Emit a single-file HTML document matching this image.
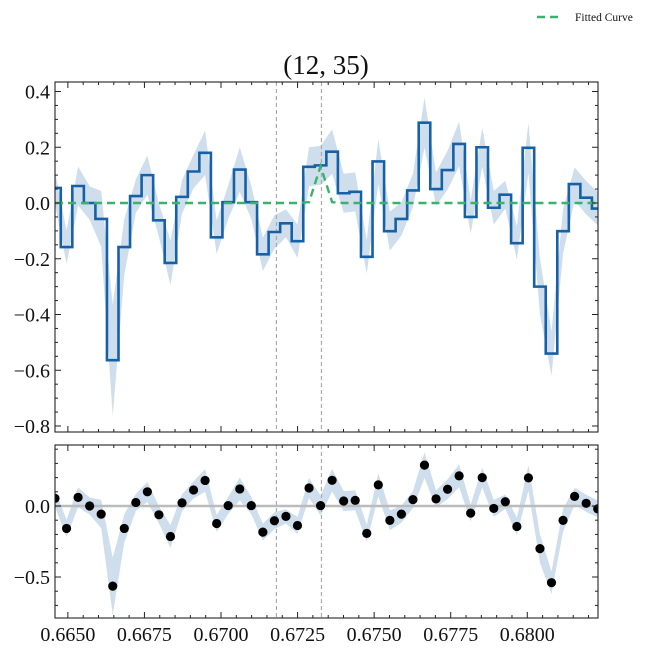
<!DOCTYPE html>
<html><head><meta charset="utf-8"><style>
body{margin:0;background:#fff;}
svg text{font-family:"Liberation Serif",serif;fill:#111;}
</style></head><body>
<svg id="c" width="665" height="650" xmlns="http://www.w3.org/2000/svg"></svg>
<script>
const x0 = 0.66458, dx = 0.000377;
const dataVals = [0.054,-0.158,0.061,0,-0.057,-0.564,-0.158,0.025,0.10,-0.062,-0.215,0.022,0.113,0.180,-0.123,0.003,0.12,0.003,-0.184,-0.104,-0.073,-0.137,0.13,0.135,0.184,0.035,0.04,-0.193,0.149,-0.101,-0.057,0.045,0.288,0.05,0.118,0.212,-0.05,0.200,-0.017,0.03,-0.144,0.198,-0.30,-0.54,-0.101,0.068,0.019,-0.02];
const modelVals = [0,0,0,0,0,0,0,0,0,0,0,0,0,0,0,0,0,0,0,0,0,0,0.003,0.132,0.003,0,0,0,0,0,0,0,0,0,0,0,0,0,0,0,0,0,0,0,0,0,0,0];
const errVals = [0.06,0.06,0.07,0.06,0.1,0.2,0.1,0.06,0.07,0.06,0.08,0.06,0.06,0.08,0.06,0.06,0.08,0.06,0.06,0.06,0.05,0.06,0.07,0.07,0.08,0.07,0.07,0.06,0.08,0.07,0.06,0.06,0.09,0.06,0.07,0.08,0.06,0.07,0.06,0.05,0.06,0.09,0.1,0.08,0.08,0.06,0.06,0.06];
const vLines = [0.67181, 0.67328];
const xTicks = [0.6650,0.6675,0.6700,0.6725,0.6750,0.6775,0.6800];
const yTicksTop = [0.4,0.2,0,-0.2,-0.4,-0.6,-0.8];
const yTicksBot = [0,-0.5];

const svg = document.getElementById('c');
const NS='http://www.w3.org/2000/svg';
function mk(tag, attrs, parent){const e=document.createElementNS(NS,tag);for(const k in attrs)e.setAttribute(k,attrs[k]);(parent||svg).appendChild(e);return e;}
const L=55,R=598;
const xmin=0.66458, xmax=x0+47*dx+0.00001;
const X = v => L + (v - xmin)/(xmax - xmin)*(R-L);
const T={top:82,bot:432,vmax:0.4+(203-82)/278.75*0,};
const Yt = v => 203 - v*278.75;
const Yb = v => 506 - v*142;
const xs = dataVals.map((_,i)=>x0+i*dx);
const resid = dataVals.map((v,i)=>v-modelVals[i]);
const fmt = v => (v<0?'\u2212':'')+Math.abs(v).toFixed(1);

const defs=mk('defs',{});
const cp1=mk('clipPath',{id:'cp1'},defs); mk('rect',{x:L,y:82,width:R-L,height:350},cp1);
const cp2=mk('clipPath',{id:'cp2'},defs); mk('rect',{x:L,y:445,width:R-L,height:173},cp2);

function panel(top,bot,Y,yt,name){
  const g=mk('g',{'clip-path':'url(#'+(name==='top'?'cp1':'cp2')+')'});
  
  
  return g;
}
// ---- top panel
const gt=panel(82,432,Yt,yTicksTop,'top');
let up='',lo='';
xs.forEach((x,i)=>{up+=(i?'L':'M')+X(x)+','+Yt(dataVals[i]+errVals[i]);});
for(let i=xs.length-1;i>=0;i--) up+='L'+X(xs[i])+','+Yt(dataVals[i]-errVals[i]);
const band=mk('path',{d:up+'Z',fill:'#c5d8ea',opacity:'0.85'},gt);


vLines.forEach(v=>{const l=mk('line',{x1:X(v),x2:X(v),y1:82,y2:432,stroke:'#aaa','stroke-width':1.2,'stroke-dasharray':'4,3'},gt);

});
let sd='';
const hw=dx/2;
xs.forEach((x,i)=>{const y=Yt(dataVals[i]);sd+=(i?'L':'M')+X(x-hw)+','+y+'L'+X(x+hw)+','+y;});
const step=mk('path',{d:sd,fill:'none',stroke:'#1660a8','stroke-width':2.6},gt);


let md='';xs.forEach((x,i)=>{md+=(i?'L':'M')+X(x)+','+Yt(modelVals[i]);});
const fit=mk('path',{d:md,fill:'none',stroke:'#3bb26b','stroke-width':2.4,'stroke-dasharray':'8,5'},gt);



// ---- bottom panel
const gb=panel(445,618,Yb,yTicksBot,'bottom');
let bu='';
xs.forEach((x,i)=>{bu+=(i?'L':'M')+X(x)+','+Yb(resid[i]+errVals[i]);});
for(let i=xs.length-1;i>=0;i--) bu+='L'+X(xs[i])+','+Yb(resid[i]-errVals[i]);
const band2=mk('path',{d:bu+'Z',fill:'#c5d8ea',opacity:'0.85'},gb);


const zl=mk('line',{x1:L,x2:R,y1:Yb(0),y2:Yb(0),stroke:'#bbb','stroke-width':2.5},gb);


vLines.forEach(v=>{const l=mk('line',{x1:X(v),x2:X(v),y1:445,y2:618,stroke:'#aaa','stroke-width':1.2,'stroke-dasharray':'4,3'},gb);

});
xs.forEach((x,i)=>{const c=mk('circle',{cx:X(x),cy:Yb(resid[i]),r:4.6,fill:'#000'},gb);

});

// ---- frames & ticks
function frame(top,bot,Y,yt,ymin,ymax,labels,minorStep,name){
  const f=mk('rect',{x:L,y:top,width:R-L,height:bot-top,fill:'none',stroke:'#222','stroke-width':1.1});
  
  
  for(let v=Math.ceil(ymin/minorStep)*minorStep; v<=ymax+1e-9; v+=minorStep){
    const y=Y(v); const major=yt.some(t=>Math.abs(t-v)<1e-6);
    const len=major?6:3;
    mk('line',{x1:L,x2:L+len,y1:y,y2:y,stroke:'#222','stroke-width':1});
    mk('line',{x1:R-len,x2:R,y1:y,y2:y,stroke:'#222','stroke-width':1});
  }
  for(let v=0.6645; v<=xmax; v+=0.0005){
    if(v<xmin) continue;
    const x=X(v); const major=xTicks.some(t=>Math.abs(t-v)<1e-7); const len=major?6:3;
    mk('line',{x1:x,x2:x,y1:bot-len,y2:bot,stroke:'#222','stroke-width':1});
    mk('line',{x1:x,x2:x,y1:top,y2:top+len,stroke:'#222','stroke-width':1});
  }
  yt.forEach(v=>{const t=mk('text',{x:50,y:Y(v)+7,'text-anchor':'end','font-size':20});t.textContent=fmt(v);
    
    });
}
frame(82,432,Yt,yTicksTop,-0.8,0.43,yTicksTop,0.05,'top');
frame(445,618,Yb,yTicksBot,-0.79,0.43,yTicksBot,0.1,'bottom');
xTicks.forEach(v=>{const t=mk('text',{x:X(v),y:641,'text-anchor':'middle','font-size':20});t.textContent=v.toFixed(4);
  
  });

const title=mk('text',{x:326,y:74,'text-anchor':'middle','font-size':27});title.textContent='(12, 35)';


const lg=mk('g',{});


mk('line',{x1:537,x2:562,y1:17,y2:17,stroke:'#3bb26b','stroke-width':2.4,'stroke-dasharray':'8,5'},lg);
const lt=mk('text',{x:575,y:21,'font-size':11.5},lg);lt.textContent='Fitted Curve';
</script>
</body></html>
